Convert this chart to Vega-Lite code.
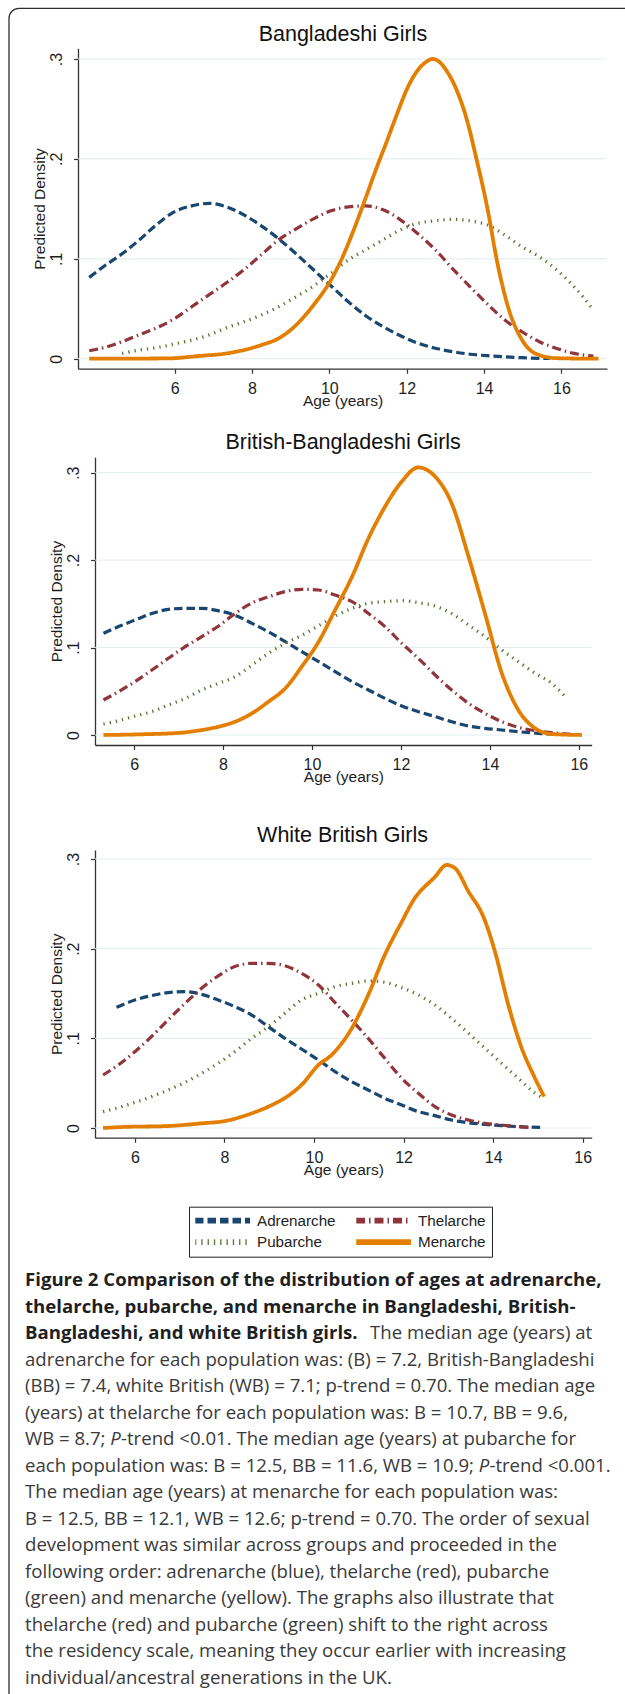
{
  "$schema": "https://vega.github.io/schema/vega-lite/v6.json",
  "width": 625,
  "height": 1694,
  "autosize": {"type": "none"},
  "padding": 0,
  "background": "white",
  "config": {
    "view": {"stroke": null},
    "axis": {
      "grid": false,
      "domainColor": "#333333",
      "domainWidth": 1.3,
      "tickColor": "#333333",
      "tickWidth": 1.2,
      "tickSize": 4.5,
      "labelFont": "Liberation Sans",
      "labelFontSize": 16,
      "labelColor": "#1e1e1e",
      "titleFont": "Liberation Sans",
      "titleFontSize": 15.5,
      "titleFontWeight": "normal",
      "titleColor": "#1e1e1e",
      "labelOverlap": false,
      "labelFlush": false,
      "labelBound": false
    }
  },
  "datasets": {
    "grids": [
      {"panel": "B", "age": 3.5, "age2": 17.18, "density": 0},
      {"panel": "B", "age": 3.5, "age2": 17.18, "density": 0.1},
      {"panel": "B", "age": 3.5, "age2": 17.18, "density": 0.2},
      {"panel": "B", "age": 3.5, "age2": 17.18, "density": 0.3},
      {"panel": "BB", "age": 5.12, "age2": 16.29, "density": 0},
      {"panel": "BB", "age": 5.12, "age2": 16.29, "density": 0.1},
      {"panel": "BB", "age": 5.12, "age2": 16.29, "density": 0.2},
      {"panel": "BB", "age": 5.12, "age2": 16.29, "density": 0.3},
      {"panel": "WB", "age": 5.11, "age2": 16.2, "density": 0},
      {"panel": "WB", "age": 5.11, "age2": 16.2, "density": 0.1},
      {"panel": "WB", "age": 5.11, "age2": 16.2, "density": 0.2},
      {"panel": "WB", "age": 5.11, "age2": 16.2, "density": 0.3}
    ],
    "titles": [
      {"panel": "B", "age": 10.35, "density": 0.3183, "label": "Bangladeshi Girls"},
      {"panel": "BB", "age": 10.7, "density": 0.3269, "label": "British-Bangladeshi Girls"},
      {"panel": "WB", "age": 10.636, "density": 0.3193, "label": "White British Girls"}
    ],
    "caption": [
      {"line": 0, "pos": 0, "style": "bold", "text": "Figure 2 Comparison of the distribution of ages at adrenarche,"},
      {"line": 1, "pos": 0, "style": "bold", "text": "thelarche, pubarche, and menarche in Bangladeshi, British-"},
      {"line": 2, "pos": 0, "style": "bold", "text": "Bangladeshi, and white British girls."},
      {"line": 2, "pos": 345, "style": "normal", "text": "The median age (years) at"},
      {"line": 3, "pos": 0, "style": "normal", "text": "adrenarche for each population was: (B) = 7.2, British-Bangladeshi"},
      {"line": 4, "pos": 0, "style": "normal", "text": "(BB) = 7.4, white British (WB) = 7.1; p-trend = 0.70. The median age"},
      {"line": 5, "pos": 0, "style": "normal", "text": "(years) at thelarche for each population was: B = 10.7, BB = 9.6,"},
      {"line": 6, "pos": 0, "style": "normal", "text": "WB = 8.7;"},
      {"line": 6, "pos": 85.3, "style": "italic", "text": "P"},
      {"line": 6, "pos": 96, "style": "normal", "text": "-trend <0.01. The median age (years) at pubarche for"},
      {"line": 7, "pos": 0, "style": "normal", "text": "each population was: B = 12.5, BB = 11.6, WB = 10.9;"},
      {"line": 7, "pos": 453.7, "style": "italic", "text": "P"},
      {"line": 7, "pos": 464.4, "style": "normal", "text": "-trend <0.001."},
      {"line": 8, "pos": 0, "style": "normal", "text": "The median age (years) at menarche for each population was:"},
      {"line": 9, "pos": 0, "style": "normal", "text": "B = 12.5, BB = 12.1, WB = 12.6; p-trend = 0.70. The order of sexual"},
      {"line": 10, "pos": 0, "style": "normal", "text": "development was similar across groups and proceeded in the"},
      {"line": 11, "pos": 0, "style": "normal", "text": "following order: adrenarche (blue), thelarche (red), pubarche"},
      {"line": 12, "pos": 0, "style": "normal", "text": "(green) and menarche (yellow). The graphs also illustrate that"},
      {"line": 13, "pos": 0, "style": "normal", "text": "thelarche (red) and pubarche (green) shift to the right across"},
      {"line": 14, "pos": 0, "style": "normal", "text": "the residency scale, meaning they occur earlier with increasing"},
      {"line": 15, "pos": 0, "style": "normal", "text": "individual/ancestral generations in the UK."}
    ],
    "curves": [
      {"panel":"B","stage":"Adrenarche","age":3.79,"density":0.0814},
      {"panel":"B","stage":"Adrenarche","age":4.19,"density":0.093},
      {"panel":"B","stage":"Adrenarche","age":4.64,"density":0.105},
      {"panel":"B","stage":"Adrenarche","age":5.09,"density":0.119},
      {"panel":"B","stage":"Adrenarche","age":5.54,"density":0.1345},
      {"panel":"B","stage":"Adrenarche","age":5.99,"density":0.147},
      {"panel":"B","stage":"Adrenarche","age":6.44,"density":0.153},
      {"panel":"B","stage":"Adrenarche","age":6.89,"density":0.1555},
      {"panel":"B","stage":"Adrenarche","age":7.34,"density":0.152},
      {"panel":"B","stage":"Adrenarche","age":7.79,"density":0.144},
      {"panel":"B","stage":"Adrenarche","age":8.24,"density":0.133},
      {"panel":"B","stage":"Adrenarche","age":8.69,"density":0.12},
      {"panel":"B","stage":"Adrenarche","age":9.14,"density":0.105},
      {"panel":"B","stage":"Adrenarche","age":9.59,"density":0.089},
      {"panel":"B","stage":"Adrenarche","age":10.04,"density":0.073},
      {"panel":"B","stage":"Adrenarche","age":10.49,"density":0.057},
      {"panel":"B","stage":"Adrenarche","age":10.94,"density":0.043},
      {"panel":"B","stage":"Adrenarche","age":11.39,"density":0.032},
      {"panel":"B","stage":"Adrenarche","age":11.84,"density":0.023},
      {"panel":"B","stage":"Adrenarche","age":12.29,"density":0.0155},
      {"panel":"B","stage":"Adrenarche","age":12.74,"density":0.0105},
      {"panel":"B","stage":"Adrenarche","age":13.19,"density":0.007},
      {"panel":"B","stage":"Adrenarche","age":13.64,"density":0.0045},
      {"panel":"B","stage":"Adrenarche","age":14.08,"density":0.003},
      {"panel":"B","stage":"Adrenarche","age":14.53,"density":0.002},
      {"panel":"B","stage":"Adrenarche","age":14.98,"density":0.001},
      {"panel":"B","stage":"Adrenarche","age":15.7,"density":0.0002},
      {"panel":"B","stage":"Thelarche","age":3.79,"density":0.008},
      {"panel":"B","stage":"Thelarche","age":4.19,"density":0.0113},
      {"panel":"B","stage":"Thelarche","age":4.64,"density":0.017},
      {"panel":"B","stage":"Thelarche","age":5.09,"density":0.024},
      {"panel":"B","stage":"Thelarche","age":5.54,"density":0.031},
      {"panel":"B","stage":"Thelarche","age":5.99,"density":0.04},
      {"panel":"B","stage":"Thelarche","age":6.44,"density":0.052},
      {"panel":"B","stage":"Thelarche","age":6.89,"density":0.064},
      {"panel":"B","stage":"Thelarche","age":7.34,"density":0.076},
      {"panel":"B","stage":"Thelarche","age":7.79,"density":0.089},
      {"panel":"B","stage":"Thelarche","age":8.24,"density":0.104},
      {"panel":"B","stage":"Thelarche","age":8.69,"density":0.119},
      {"panel":"B","stage":"Thelarche","age":9.14,"density":0.13},
      {"panel":"B","stage":"Thelarche","age":9.59,"density":0.14},
      {"panel":"B","stage":"Thelarche","age":10.04,"density":0.148},
      {"panel":"B","stage":"Thelarche","age":10.49,"density":0.152},
      {"panel":"B","stage":"Thelarche","age":10.94,"density":0.153},
      {"panel":"B","stage":"Thelarche","age":11.39,"density":0.149},
      {"panel":"B","stage":"Thelarche","age":11.84,"density":0.139},
      {"panel":"B","stage":"Thelarche","age":12.29,"density":0.125},
      {"panel":"B","stage":"Thelarche","age":12.74,"density":0.109},
      {"panel":"B","stage":"Thelarche","age":13.19,"density":0.09},
      {"panel":"B","stage":"Thelarche","age":13.64,"density":0.072},
      {"panel":"B","stage":"Thelarche","age":14.08,"density":0.055},
      {"panel":"B","stage":"Thelarche","age":14.53,"density":0.039},
      {"panel":"B","stage":"Thelarche","age":14.98,"density":0.027},
      {"panel":"B","stage":"Thelarche","age":15.43,"density":0.017},
      {"panel":"B","stage":"Thelarche","age":15.88,"density":0.0103},
      {"panel":"B","stage":"Thelarche","age":16.33,"density":0.0053},
      {"panel":"B","stage":"Thelarche","age":16.83,"density":0.0027},
      {"panel":"B","stage":"Pubarche","age":4.64,"density":0.0053},
      {"panel":"B","stage":"Pubarche","age":5.09,"density":0.0087},
      {"panel":"B","stage":"Pubarche","age":5.54,"density":0.011},
      {"panel":"B","stage":"Pubarche","age":5.99,"density":0.0147},
      {"panel":"B","stage":"Pubarche","age":6.44,"density":0.0187},
      {"panel":"B","stage":"Pubarche","age":6.89,"density":0.0237},
      {"panel":"B","stage":"Pubarche","age":7.34,"density":0.031},
      {"panel":"B","stage":"Pubarche","age":7.79,"density":0.037},
      {"panel":"B","stage":"Pubarche","age":8.24,"density":0.0437},
      {"panel":"B","stage":"Pubarche","age":8.69,"density":0.052},
      {"panel":"B","stage":"Pubarche","age":9.14,"density":0.062},
      {"panel":"B","stage":"Pubarche","age":9.59,"density":0.0727},
      {"panel":"B","stage":"Pubarche","age":10.04,"density":0.0854},
      {"panel":"B","stage":"Pubarche","age":10.49,"density":0.0988},
      {"panel":"B","stage":"Pubarche","age":10.94,"density":0.109},
      {"panel":"B","stage":"Pubarche","age":11.39,"density":0.119},
      {"panel":"B","stage":"Pubarche","age":11.84,"density":0.129},
      {"panel":"B","stage":"Pubarche","age":12.29,"density":0.1355},
      {"panel":"B","stage":"Pubarche","age":12.74,"density":0.138},
      {"panel":"B","stage":"Pubarche","age":13.19,"density":0.1395},
      {"panel":"B","stage":"Pubarche","age":13.64,"density":0.138},
      {"panel":"B","stage":"Pubarche","age":14.08,"density":0.134},
      {"panel":"B","stage":"Pubarche","age":14.53,"density":0.124},
      {"panel":"B","stage":"Pubarche","age":14.98,"density":0.112},
      {"panel":"B","stage":"Pubarche","age":15.43,"density":0.102},
      {"panel":"B","stage":"Pubarche","age":15.88,"density":0.0888},
      {"panel":"B","stage":"Pubarche","age":16.33,"density":0.072},
      {"panel":"B","stage":"Pubarche","age":16.83,"density":0.0487},
      {"panel":"B","stage":"Menarche","age":3.79,"density":0},
      {"panel":"B","stage":"Menarche","age":5.81,"density":0.0003},
      {"panel":"B","stage":"Menarche","age":6.62,"density":0.0027},
      {"panel":"B","stage":"Menarche","age":7.34,"density":0.0053},
      {"panel":"B","stage":"Menarche","age":7.79,"density":0.0087},
      {"panel":"B","stage":"Menarche","age":8.24,"density":0.0137},
      {"panel":"B","stage":"Menarche","age":8.69,"density":0.0204},
      {"panel":"B","stage":"Menarche","age":9.14,"density":0.0337},
      {"panel":"B","stage":"Menarche","age":9.59,"density":0.0537},
      {"panel":"B","stage":"Menarche","age":10.04,"density":0.0787},
      {"panel":"B","stage":"Menarche","age":10.31,"density":0.099},
      {"panel":"B","stage":"Menarche","age":10.58,"density":0.124},
      {"panel":"B","stage":"Menarche","age":10.94,"density":0.161},
      {"panel":"B","stage":"Menarche","age":11.21,"density":0.19},
      {"panel":"B","stage":"Menarche","age":11.48,"density":0.217},
      {"panel":"B","stage":"Menarche","age":11.75,"density":0.245},
      {"panel":"B","stage":"Menarche","age":12.02,"density":0.271},
      {"panel":"B","stage":"Menarche","age":12.29,"density":0.289},
      {"panel":"B","stage":"Menarche","age":12.5,"density":0.297},
      {"panel":"B","stage":"Menarche","age":12.67,"density":0.3},
      {"panel":"B","stage":"Menarche","age":12.85,"density":0.297},
      {"panel":"B","stage":"Menarche","age":13.0,"density":0.29},
      {"panel":"B","stage":"Menarche","age":13.28,"density":0.27},
      {"panel":"B","stage":"Menarche","age":13.55,"density":0.24},
      {"panel":"B","stage":"Menarche","age":13.81,"density":0.199},
      {"panel":"B","stage":"Menarche","age":14.08,"density":0.152},
      {"panel":"B","stage":"Menarche","age":14.35,"density":0.095},
      {"panel":"B","stage":"Menarche","age":14.62,"density":0.052},
      {"panel":"B","stage":"Menarche","age":14.98,"density":0.019},
      {"panel":"B","stage":"Menarche","age":15.34,"density":0.005},
      {"panel":"B","stage":"Menarche","age":15.88,"density":0.0005},
      {"panel":"B","stage":"Menarche","age":16.96,"density":0},
      {"panel":"BB","stage":"Adrenarche","age":5.31,"density":0.1163},
      {"panel":"BB","stage":"Adrenarche","age":5.65,"density":0.124},
      {"panel":"BB","stage":"Adrenarche","age":6.02,"density":0.1315},
      {"panel":"BB","stage":"Adrenarche","age":6.4,"density":0.139},
      {"panel":"BB","stage":"Adrenarche","age":6.77,"density":0.1437},
      {"panel":"BB","stage":"Adrenarche","age":7.15,"density":0.1449},
      {"panel":"BB","stage":"Adrenarche","age":7.52,"density":0.1449},
      {"panel":"BB","stage":"Adrenarche","age":7.9,"density":0.142},
      {"panel":"BB","stage":"Adrenarche","age":8.27,"density":0.137},
      {"panel":"BB","stage":"Adrenarche","age":8.65,"density":0.1277},
      {"panel":"BB","stage":"Adrenarche","age":9.02,"density":0.118},
      {"panel":"BB","stage":"Adrenarche","age":9.4,"density":0.1067},
      {"panel":"BB","stage":"Adrenarche","age":9.77,"density":0.0953},
      {"panel":"BB","stage":"Adrenarche","age":10.15,"density":0.0839},
      {"panel":"BB","stage":"Adrenarche","age":10.52,"density":0.0724},
      {"panel":"BB","stage":"Adrenarche","age":10.9,"density":0.061},
      {"panel":"BB","stage":"Adrenarche","age":11.27,"density":0.0515},
      {"panel":"BB","stage":"Adrenarche","age":11.64,"density":0.0419},
      {"panel":"BB","stage":"Adrenarche","age":12.02,"density":0.0332},
      {"panel":"BB","stage":"Adrenarche","age":12.39,"density":0.0267},
      {"panel":"BB","stage":"Adrenarche","age":12.77,"density":0.021},
      {"panel":"BB","stage":"Adrenarche","age":13.14,"density":0.0152},
      {"panel":"BB","stage":"Adrenarche","age":13.52,"density":0.0103},
      {"panel":"BB","stage":"Adrenarche","age":13.89,"density":0.0076},
      {"panel":"BB","stage":"Adrenarche","age":14.27,"density":0.0057},
      {"panel":"BB","stage":"Adrenarche","age":14.64,"density":0.0038},
      {"panel":"BB","stage":"Adrenarche","age":15.09,"density":0.0019},
      {"panel":"BB","stage":"Adrenarche","age":15.5,"density":0.0008},
      {"panel":"BB","stage":"Thelarche","age":5.31,"density":0.04},
      {"panel":"BB","stage":"Thelarche","age":5.65,"density":0.0496},
      {"panel":"BB","stage":"Thelarche","age":6.02,"density":0.061},
      {"panel":"BB","stage":"Thelarche","age":6.4,"density":0.0743},
      {"panel":"BB","stage":"Thelarche","age":6.77,"density":0.0877},
      {"panel":"BB","stage":"Thelarche","age":7.15,"density":0.101},
      {"panel":"BB","stage":"Thelarche","age":7.52,"density":0.1125},
      {"panel":"BB","stage":"Thelarche","age":7.9,"density":0.1247},
      {"panel":"BB","stage":"Thelarche","age":8.27,"density":0.139},
      {"panel":"BB","stage":"Thelarche","age":8.65,"density":0.151},
      {"panel":"BB","stage":"Thelarche","age":9.02,"density":0.158},
      {"panel":"BB","stage":"Thelarche","age":9.4,"density":0.164},
      {"panel":"BB","stage":"Thelarche","age":9.77,"density":0.1666},
      {"panel":"BB","stage":"Thelarche","age":10.15,"density":0.1658},
      {"panel":"BB","stage":"Thelarche","age":10.52,"density":0.16},
      {"panel":"BB","stage":"Thelarche","age":10.9,"density":0.1525},
      {"panel":"BB","stage":"Thelarche","age":11.27,"density":0.139},
      {"panel":"BB","stage":"Thelarche","age":11.64,"density":0.124},
      {"panel":"BB","stage":"Thelarche","age":12.02,"density":0.1048},
      {"panel":"BB","stage":"Thelarche","age":12.39,"density":0.0877},
      {"panel":"BB","stage":"Thelarche","age":12.77,"density":0.0686},
      {"panel":"BB","stage":"Thelarche","age":13.14,"density":0.0515},
      {"panel":"BB","stage":"Thelarche","age":13.52,"density":0.0362},
      {"panel":"BB","stage":"Thelarche","age":13.89,"density":0.0248},
      {"panel":"BB","stage":"Thelarche","age":14.27,"density":0.0152},
      {"panel":"BB","stage":"Thelarche","age":14.64,"density":0.0088},
      {"panel":"BB","stage":"Thelarche","age":15.02,"density":0.005},
      {"panel":"BB","stage":"Thelarche","age":15.39,"density":0.0027},
      {"panel":"BB","stage":"Thelarche","age":15.84,"density":0.0008},
      {"panel":"BB","stage":"Pubarche","age":5.31,"density":0.0126},
      {"panel":"BB","stage":"Pubarche","age":5.65,"density":0.0164},
      {"panel":"BB","stage":"Pubarche","age":6.02,"density":0.0217},
      {"panel":"BB","stage":"Pubarche","age":6.4,"density":0.0267},
      {"panel":"BB","stage":"Pubarche","age":6.77,"density":0.0343},
      {"panel":"BB","stage":"Pubarche","age":7.15,"density":0.0419},
      {"panel":"BB","stage":"Pubarche","age":7.52,"density":0.0515},
      {"panel":"BB","stage":"Pubarche","age":7.9,"density":0.0591},
      {"panel":"BB","stage":"Pubarche","age":8.27,"density":0.0667},
      {"panel":"BB","stage":"Pubarche","age":8.65,"density":0.08},
      {"panel":"BB","stage":"Pubarche","age":9.02,"density":0.0934},
      {"panel":"BB","stage":"Pubarche","age":9.4,"density":0.1048},
      {"panel":"BB","stage":"Pubarche","age":9.77,"density":0.114},
      {"panel":"BB","stage":"Pubarche","age":10.15,"density":0.125},
      {"panel":"BB","stage":"Pubarche","age":10.52,"density":0.136},
      {"panel":"BB","stage":"Pubarche","age":10.9,"density":0.1449},
      {"panel":"BB","stage":"Pubarche","age":11.27,"density":0.1506},
      {"panel":"BB","stage":"Pubarche","age":11.64,"density":0.1525},
      {"panel":"BB","stage":"Pubarche","age":12.02,"density":0.1536},
      {"panel":"BB","stage":"Pubarche","age":12.39,"density":0.1514},
      {"panel":"BB","stage":"Pubarche","age":12.77,"density":0.1475},
      {"panel":"BB","stage":"Pubarche","age":13.14,"density":0.139},
      {"panel":"BB","stage":"Pubarche","age":13.52,"density":0.1258},
      {"panel":"BB","stage":"Pubarche","age":13.89,"density":0.1125},
      {"panel":"BB","stage":"Pubarche","age":14.27,"density":0.0972},
      {"panel":"BB","stage":"Pubarche","age":14.64,"density":0.0839},
      {"panel":"BB","stage":"Pubarche","age":15.02,"density":0.0705},
      {"panel":"BB","stage":"Pubarche","age":15.39,"density":0.0591},
      {"panel":"BB","stage":"Pubarche","age":15.73,"density":0.0419},
      {"panel":"BB","stage":"Menarche","age":5.31,"density":0},
      {"panel":"BB","stage":"Menarche","age":6.17,"density":0.0008},
      {"panel":"BB","stage":"Menarche","age":7.07,"density":0.0027},
      {"panel":"BB","stage":"Menarche","age":7.52,"density":0.0057},
      {"panel":"BB","stage":"Menarche","age":7.9,"density":0.0095},
      {"panel":"BB","stage":"Menarche","age":8.27,"density":0.0152},
      {"panel":"BB","stage":"Menarche","age":8.65,"density":0.0248},
      {"panel":"BB","stage":"Menarche","age":9.02,"density":0.0381},
      {"panel":"BB","stage":"Menarche","age":9.4,"density":0.0534},
      {"panel":"BB","stage":"Menarche","age":9.77,"density":0.0782},
      {"panel":"BB","stage":"Menarche","age":10.15,"density":0.1067},
      {"panel":"BB","stage":"Menarche","age":10.52,"density":0.143},
      {"panel":"BB","stage":"Menarche","age":10.9,"density":0.181},
      {"panel":"BB","stage":"Menarche","age":11.27,"density":0.225},
      {"panel":"BB","stage":"Menarche","age":11.64,"density":0.261},
      {"panel":"BB","stage":"Menarche","age":12.02,"density":0.29},
      {"panel":"BB","stage":"Menarche","age":12.39,"density":0.306},
      {"panel":"BB","stage":"Menarche","age":12.77,"density":0.2955},
      {"panel":"BB","stage":"Menarche","age":13.14,"density":0.265},
      {"panel":"BB","stage":"Menarche","age":13.52,"density":0.204},
      {"panel":"BB","stage":"Menarche","age":13.89,"density":0.139},
      {"panel":"BB","stage":"Menarche","age":14.27,"density":0.0705},
      {"panel":"BB","stage":"Menarche","age":14.64,"density":0.0286},
      {"panel":"BB","stage":"Menarche","age":15.02,"density":0.0076},
      {"panel":"BB","stage":"Menarche","age":15.39,"density":0.0011},
      {"panel":"BB","stage":"Menarche","age":16.07,"density":0},
      {"panel":"WB","stage":"Adrenarche","age":5.59,"density":0.1346},
      {"panel":"WB","stage":"Adrenarche","age":6.0,"density":0.1428},
      {"panel":"WB","stage":"Adrenarche","age":6.37,"density":0.1476},
      {"panel":"WB","stage":"Adrenarche","age":6.74,"density":0.151},
      {"panel":"WB","stage":"Adrenarche","age":7.12,"density":0.152},
      {"panel":"WB","stage":"Adrenarche","age":7.49,"density":0.149},
      {"panel":"WB","stage":"Adrenarche","age":7.86,"density":0.1428},
      {"panel":"WB","stage":"Adrenarche","age":8.23,"density":0.1353},
      {"panel":"WB","stage":"Adrenarche","age":8.61,"density":0.126},
      {"panel":"WB","stage":"Adrenarche","age":8.98,"density":0.113},
      {"panel":"WB","stage":"Adrenarche","age":9.35,"density":0.1},
      {"panel":"WB","stage":"Adrenarche","age":9.72,"density":0.0881},
      {"panel":"WB","stage":"Adrenarche","age":10.1,"density":0.0758},
      {"panel":"WB","stage":"Adrenarche","age":10.47,"density":0.0628},
      {"panel":"WB","stage":"Adrenarche","age":10.84,"density":0.0517},
      {"panel":"WB","stage":"Adrenarche","age":11.21,"density":0.0424},
      {"panel":"WB","stage":"Adrenarche","age":11.58,"density":0.0331},
      {"panel":"WB","stage":"Adrenarche","age":11.96,"density":0.0257},
      {"panel":"WB","stage":"Adrenarche","age":12.33,"density":0.0182},
      {"panel":"WB","stage":"Adrenarche","age":12.7,"density":0.0138},
      {"panel":"WB","stage":"Adrenarche","age":13.07,"density":0.0089},
      {"panel":"WB","stage":"Adrenarche","age":13.45,"density":0.0059},
      {"panel":"WB","stage":"Adrenarche","age":13.82,"density":0.0041},
      {"panel":"WB","stage":"Adrenarche","age":14.19,"density":0.0026},
      {"panel":"WB","stage":"Adrenarche","age":14.56,"density":0.0015},
      {"panel":"WB","stage":"Adrenarche","age":15.08,"density":0.0007},
      {"panel":"WB","stage":"Thelarche","age":5.29,"density":0.0591},
      {"panel":"WB","stage":"Thelarche","age":5.63,"density":0.0703},
      {"panel":"WB","stage":"Thelarche","age":6.0,"density":0.0851},
      {"panel":"WB","stage":"Thelarche","age":6.37,"density":0.1019},
      {"panel":"WB","stage":"Thelarche","age":6.74,"density":0.1204},
      {"panel":"WB","stage":"Thelarche","age":7.12,"density":0.139},
      {"panel":"WB","stage":"Thelarche","age":7.49,"density":0.1558},
      {"panel":"WB","stage":"Thelarche","age":7.86,"density":0.1695},
      {"panel":"WB","stage":"Thelarche","age":8.23,"density":0.18},
      {"panel":"WB","stage":"Thelarche","age":8.61,"density":0.1836},
      {"panel":"WB","stage":"Thelarche","age":8.98,"density":0.1836},
      {"panel":"WB","stage":"Thelarche","age":9.35,"density":0.181},
      {"panel":"WB","stage":"Thelarche","age":9.72,"density":0.1725},
      {"panel":"WB","stage":"Thelarche","age":10.1,"density":0.1595},
      {"panel":"WB","stage":"Thelarche","age":10.47,"density":0.1398},
      {"panel":"WB","stage":"Thelarche","age":10.84,"density":0.1204},
      {"panel":"WB","stage":"Thelarche","age":11.21,"density":0.1},
      {"panel":"WB","stage":"Thelarche","age":11.58,"density":0.0777},
      {"panel":"WB","stage":"Thelarche","age":11.96,"density":0.0554},
      {"panel":"WB","stage":"Thelarche","age":12.33,"density":0.0387},
      {"panel":"WB","stage":"Thelarche","age":12.7,"density":0.0238},
      {"panel":"WB","stage":"Thelarche","age":13.07,"density":0.0145},
      {"panel":"WB","stage":"Thelarche","age":13.45,"density":0.0089},
      {"panel":"WB","stage":"Thelarche","age":13.82,"density":0.0052},
      {"panel":"WB","stage":"Thelarche","age":14.19,"density":0.0033},
      {"panel":"WB","stage":"Thelarche","age":14.56,"density":0.0015},
      {"panel":"WB","stage":"Thelarche","age":14.79,"density":0.0007},
      {"panel":"WB","stage":"Pubarche","age":5.29,"density":0.0182},
      {"panel":"WB","stage":"Pubarche","age":5.63,"density":0.0227},
      {"panel":"WB","stage":"Pubarche","age":6.0,"density":0.0286},
      {"panel":"WB","stage":"Pubarche","age":6.37,"density":0.0349},
      {"panel":"WB","stage":"Pubarche","age":6.74,"density":0.0424},
      {"panel":"WB","stage":"Pubarche","age":7.12,"density":0.0509},
      {"panel":"WB","stage":"Pubarche","age":7.49,"density":0.061},
      {"panel":"WB","stage":"Pubarche","age":7.86,"density":0.0721},
      {"panel":"WB","stage":"Pubarche","age":8.23,"density":0.0851},
      {"panel":"WB","stage":"Pubarche","age":8.61,"density":0.1},
      {"panel":"WB","stage":"Pubarche","age":8.98,"density":0.113},
      {"panel":"WB","stage":"Pubarche","age":9.35,"density":0.1279},
      {"panel":"WB","stage":"Pubarche","age":9.72,"density":0.1428},
      {"panel":"WB","stage":"Pubarche","age":10.1,"density":0.1502},
      {"panel":"WB","stage":"Pubarche","age":10.47,"density":0.1576},
      {"panel":"WB","stage":"Pubarche","age":10.84,"density":0.1613},
      {"panel":"WB","stage":"Pubarche","age":11.21,"density":0.164},
      {"panel":"WB","stage":"Pubarche","age":11.58,"density":0.1625},
      {"panel":"WB","stage":"Pubarche","age":11.96,"density":0.1565},
      {"panel":"WB","stage":"Pubarche","age":12.33,"density":0.1483},
      {"panel":"WB","stage":"Pubarche","age":12.7,"density":0.1372},
      {"panel":"WB","stage":"Pubarche","age":13.07,"density":0.1223},
      {"panel":"WB","stage":"Pubarche","age":13.45,"density":0.1056},
      {"panel":"WB","stage":"Pubarche","age":13.82,"density":0.0888},
      {"panel":"WB","stage":"Pubarche","age":14.19,"density":0.0721},
      {"panel":"WB","stage":"Pubarche","age":14.56,"density":0.0554},
      {"panel":"WB","stage":"Pubarche","age":14.94,"density":0.0387},
      {"panel":"WB","stage":"Pubarche","age":15.12,"density":0.0331},
      {"panel":"WB","stage":"Menarche","age":5.29,"density":0},
      {"panel":"WB","stage":"Menarche","age":5.7,"density":0.0011},
      {"panel":"WB","stage":"Menarche","age":6.74,"density":0.0022},
      {"panel":"WB","stage":"Menarche","age":7.49,"density":0.0052},
      {"panel":"WB","stage":"Menarche","age":8.01,"density":0.0078},
      {"panel":"WB","stage":"Menarche","age":8.61,"density":0.0164},
      {"panel":"WB","stage":"Menarche","age":8.98,"density":0.0238},
      {"panel":"WB","stage":"Menarche","age":9.5,"density":0.0387},
      {"panel":"WB","stage":"Menarche","age":9.72,"density":0.048},
      {"panel":"WB","stage":"Menarche","age":10.1,"density":0.0703},
      {"panel":"WB","stage":"Menarche","age":10.39,"density":0.0814},
      {"panel":"WB","stage":"Menarche","age":10.84,"density":0.111},
      {"panel":"WB","stage":"Menarche","age":11.21,"density":0.1483},
      {"panel":"WB","stage":"Menarche","age":11.58,"density":0.193},
      {"panel":"WB","stage":"Menarche","age":11.96,"density":0.23},
      {"panel":"WB","stage":"Menarche","age":12.22,"density":0.254},
      {"panel":"WB","stage":"Menarche","age":12.7,"density":0.28},
      {"panel":"WB","stage":"Menarche","age":12.96,"density":0.2933},
      {"panel":"WB","stage":"Menarche","age":13.15,"density":0.2896},
      {"panel":"WB","stage":"Menarche","age":13.45,"density":0.2636},
      {"panel":"WB","stage":"Menarche","age":13.78,"density":0.2357},
      {"panel":"WB","stage":"Menarche","age":14.04,"density":0.1967},
      {"panel":"WB","stage":"Menarche","age":14.34,"density":0.137},
      {"panel":"WB","stage":"Menarche","age":14.64,"density":0.0888},
      {"panel":"WB","stage":"Menarche","age":14.9,"density":0.0591},
      {"panel":"WB","stage":"Menarche","age":15.14,"density":0.0349}
    ]
  },
  "resolve": {"scale": {"x": "independent", "y": "independent"}},
  "layer": [
    {
      "data": {"values": [{"fx": 0, "fx2": 1, "fy": 0, "fy2": 1}]},
      "mark": {"type": "rect", "fill": "white", "fillOpacity": 0, "stroke": "#2e2e2e", "strokeWidth": 1.3, "cornerRadius": 10},
      "encoding": {
        "x": {"field": "fx", "type": "quantitative", "scale": {"domain": [0, 1], "range": [9, 700], "nice": false, "zero": false}, "axis": null},
        "x2": {"field": "fx2"},
        "y": {"field": "fy", "type": "quantitative", "scale": {"domain": [0, 1], "range": [8.3, 1800], "nice": false, "zero": false}, "axis": null},
        "y2": {"field": "fy2"}
      }
    },
    {
      "encoding": {
        "x": {"field": "age", "type": "quantitative",
          "scale": {"domain": [3.5, 17.18], "range": [78, 607], "nice": false, "zero": false},
          "axis": {"orient": "bottom", "offset": -1325.3, "values": [6, 8, 10, 12, 14, 16], "title": "Age (years)", "titleX": 342.5, "titleY": 36.5, "titleBaseline": "alphabetic", "titleAlign": "center", "labelBaseline": "alphabetic", "labelAlign": "center", "labelPadding": 20}},
        "y": {"field": "density", "type": "quantitative",
          "scale": {"domain": [-0.01, 0.3107], "range": [368.7, 48.3], "nice": false, "zero": false},
          "axis": {"orient": "left", "offset": -78, "values": [0, 0.1, 0.2, 0.3], "title": "Predicted Density", "titleX": -34, "titleY": 208.5, "titleAngle": 270, "titleBaseline": "alphabetic", "titleAlign": "center", "labelAngle": 270, "labelAlign": "center", "labelBaseline": "alphabetic", "labelPadding": 12, "labelExpr": "datum.value == 0 ? '0' : replace(format(datum.value, '.1f'), '0.', '.')"}}
      },
      "layer": [
        {"data": {"name": "grids"}, "transform": [{"filter": "datum.panel == 'B'"}], "mark": {"type": "rule", "color": "#e2ecee", "strokeWidth": 1}, "encoding": {"x2": {"field": "age2"}}},
        {"data": {"name": "curves"}, "transform": [{"filter": "datum.panel == 'B' && datum.stage != 'Menarche'"}], "mark": {"type": "line", "strokeWidth": 3.2, "interpolate": "monotone"},
          "encoding": {
            "color": {"field": "stage", "type": "nominal", "scale": {"domain": ["Adrenarche", "Pubarche", "Thelarche", "Menarche"], "range": ["#1a476f", "#55752f", "#90353b", "#e37e00"]}, "legend": {"title": null, "orient": "none", "legendX": 189, "legendY": 1206.7, "columns": 2, "symbolType": "stroke", "symbolSize": 3025, "symbolStrokeWidth": 5.7, "clipHeight": 15, "symbolOffset": -3.3, "labelOffset": 4, "labelFont": "Liberation Sans", "labelFontSize": 15.2, "labelColor": "#222222", "labelExpr": "(datum.label == 'Thelarche' || datum.label == 'Menarche') ? datum.label + '\u00a0\u00a0\u00a0' : datum.label + '\u00a0'", "columnPadding": 20, "rowPadding": 5.7, "padding": 6.3, "strokeColor": "#222222", "fillColor": "#ffffff", "labelLimit": 0}},
            "strokeDash": {"field": "stage", "type": "nominal", "scale": {"domain": ["Adrenarche", "Pubarche", "Thelarche", "Menarche"], "range": [[8.5, 4], [1.3, 5], [9, 4, 1.5, 4], [1, 0]]}, "legend": {"title": null, "orient": "none", "legendX": 189, "legendY": 1206.7, "columns": 2, "symbolType": "stroke", "symbolSize": 3025, "symbolStrokeWidth": 5.7, "clipHeight": 15, "symbolOffset": -3.3, "labelOffset": 4, "labelFont": "Liberation Sans", "labelFontSize": 15.2, "labelColor": "#222222", "labelExpr": "(datum.label == 'Thelarche' || datum.label == 'Menarche') ? datum.label + '\u00a0\u00a0\u00a0' : datum.label + '\u00a0'", "columnPadding": 20, "rowPadding": 5.7, "padding": 6.3, "strokeColor": "#222222", "fillColor": "#ffffff", "labelLimit": 0}}
          }},
        {"data": {"name": "curves"}, "transform": [{"filter": "datum.panel == 'B' && datum.stage == 'Menarche'"}], "mark": {"type": "line", "strokeWidth": 3.8, "interpolate": "monotone"},
          "encoding": {
            "color": {"field": "stage", "type": "nominal"},
            "strokeDash": {"field": "stage", "type": "nominal"}
          }},
        {"data": {"name": "titles"}, "transform": [{"filter": "datum.panel == 'B'"}], "mark": {"type": "text", "font": "Liberation Sans", "fontSize": 21.5, "color": "#111111", "align": "center", "baseline": "alphabetic"}, "encoding": {"text": {"field": "label"}}}
      ]
    },
    {
      "encoding": {
        "x": {"field": "age", "type": "quantitative",
          "scale": {"domain": [5.12, 16.29], "range": [95, 591.7], "nice": false, "zero": false},
          "axis": {"orient": "bottom", "offset": -949, "values": [6, 8, 10, 12, 14, 16], "title": "Age (years)", "titleX": 343.35, "titleY": 36.5, "titleBaseline": "alphabetic", "titleAlign": "center", "labelBaseline": "alphabetic", "labelAlign": "center", "labelPadding": 20}},
        "y": {"field": "density", "type": "quantitative",
          "scale": {"domain": [-0.01144, 0.3176], "range": [745, 457.3], "nice": false, "zero": false},
          "axis": {"orient": "left", "offset": -95, "values": [0, 0.1, 0.2, 0.3], "title": "Predicted Density", "titleX": -34, "titleY": 601.1, "titleAngle": 270, "titleBaseline": "alphabetic", "titleAlign": "center", "labelAngle": 270, "labelAlign": "center", "labelBaseline": "alphabetic", "labelPadding": 12, "labelExpr": "datum.value == 0 ? '0' : replace(format(datum.value, '.1f'), '0.', '.')"}}
      },
      "layer": [
        {"data": {"name": "grids"}, "transform": [{"filter": "datum.panel == 'BB'"}], "mark": {"type": "rule", "color": "#e2ecee", "strokeWidth": 1}, "encoding": {"x2": {"field": "age2"}}},
        {"data": {"name": "curves"}, "transform": [{"filter": "datum.panel == 'BB' && datum.stage != 'Menarche'"}], "mark": {"type": "line", "strokeWidth": 3.2, "interpolate": "monotone"},
          "encoding": {"color": {"field": "stage", "type": "nominal"}, "strokeDash": {"field": "stage", "type": "nominal"}}},
        {"data": {"name": "curves"}, "transform": [{"filter": "datum.panel == 'BB' && datum.stage == 'Menarche'"}], "mark": {"type": "line", "strokeWidth": 3.8, "interpolate": "monotone"},
          "encoding": {"color": {"field": "stage", "type": "nominal"}, "strokeDash": {"field": "stage", "type": "nominal"}}},
        {"data": {"name": "titles"}, "transform": [{"filter": "datum.panel == 'BB'"}], "mark": {"type": "text", "font": "Liberation Sans", "fontSize": 21.5, "color": "#111111", "align": "center", "baseline": "alphabetic"}, "encoding": {"text": {"field": "label"}}}
      ]
    },
    {
      "encoding": {
        "x": {"field": "age", "type": "quantitative",
          "scale": {"domain": [5.11, 16.2], "range": [95, 591.7], "nice": false, "zero": false},
          "axis": {"orient": "bottom", "offset": -556.3, "values": [6, 8, 10, 12, 14, 16], "title": "Age (years)", "titleX": 343.35, "titleY": 36.5, "titleBaseline": "alphabetic", "titleAlign": "center", "labelBaseline": "alphabetic", "labelAlign": "center", "labelPadding": 20}},
        "y": {"field": "density", "type": "quantitative",
          "scale": {"domain": [-0.0108, 0.31], "range": [1137.7, 850], "nice": false, "zero": false},
          "axis": {"orient": "left", "offset": -95, "values": [0, 0.1, 0.2, 0.3], "title": "Predicted Density", "titleX": -34, "titleY": 993.85, "titleAngle": 270, "titleBaseline": "alphabetic", "titleAlign": "center", "labelAngle": 270, "labelAlign": "center", "labelBaseline": "alphabetic", "labelPadding": 12, "labelExpr": "datum.value == 0 ? '0' : replace(format(datum.value, '.1f'), '0.', '.')"}}
      },
      "layer": [
        {"data": {"name": "grids"}, "transform": [{"filter": "datum.panel == 'WB'"}], "mark": {"type": "rule", "color": "#e2ecee", "strokeWidth": 1}, "encoding": {"x2": {"field": "age2"}}},
        {"data": {"name": "curves"}, "transform": [{"filter": "datum.panel == 'WB' && datum.stage != 'Menarche'"}], "mark": {"type": "line", "strokeWidth": 3.2, "interpolate": "monotone"},
          "encoding": {"color": {"field": "stage", "type": "nominal"}, "strokeDash": {"field": "stage", "type": "nominal"}}},
        {"data": {"name": "curves"}, "transform": [{"filter": "datum.panel == 'WB' && datum.stage == 'Menarche'"}], "mark": {"type": "line", "strokeWidth": 3.8, "interpolate": "monotone"},
          "encoding": {"color": {"field": "stage", "type": "nominal"}, "strokeDash": {"field": "stage", "type": "nominal"}}},
        {"data": {"name": "titles"}, "transform": [{"filter": "datum.panel == 'WB'"}], "mark": {"type": "text", "font": "Liberation Sans", "fontSize": 21.5, "color": "#111111", "align": "center", "baseline": "alphabetic"}, "encoding": {"text": {"field": "label"}}}
      ]
    },
    {
      "data": {"name": "caption"},
      "encoding": {
        "x": {"field": "pos", "type": "quantitative", "scale": {"domain": [0, 600], "range": [25, 625], "nice": false, "zero": false}, "axis": null},
        "y": {"field": "line", "type": "quantitative", "scale": {"domain": [0, 15], "range": [1286, 1683.5], "nice": false, "zero": false}, "axis": null},
        "text": {"field": "text"}
      },
      "layer": [
        {"transform": [{"filter": "datum.style == 'bold'"}], "mark": {"type": "text", "font": "Open Sans", "fontWeight": "bold", "fontSize": 18.6, "align": "left", "baseline": "alphabetic", "color": "#1f1f1f"}},
        {"transform": [{"filter": "datum.style == 'normal'"}], "mark": {"type": "text", "font": "Open Sans", "fontWeight": "normal", "fontSize": 18.6, "align": "left", "baseline": "alphabetic", "color": "#3a3a3a"}},
        {"transform": [{"filter": "datum.style == 'italic'"}], "mark": {"type": "text", "font": "Open Sans", "fontStyle": "italic", "fontSize": 18.6, "align": "left", "baseline": "alphabetic", "color": "#3a3a3a"}}
      ]
    }
  ]
}
